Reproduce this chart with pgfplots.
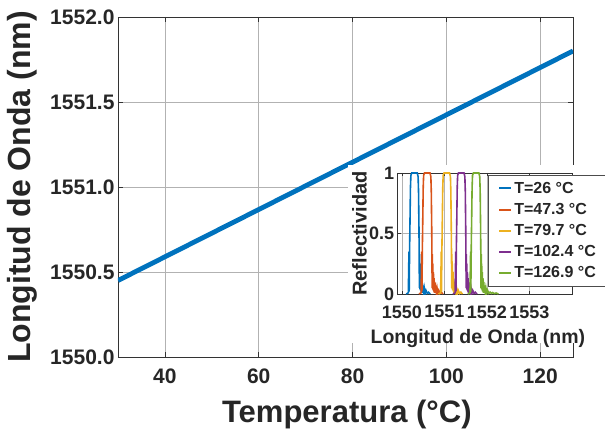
\documentclass[border=0pt]{standalone}
\usepackage{pgfplots}
\pgfplotsset{compat=1.18}
\usetikzlibrary{calc}
\usepackage{fontspec}
\setmainfont{Liberation Sans}
\definecolor{mblue}{rgb}{0,0.447,0.741}
\definecolor{morange}{rgb}{0.85,0.325,0.098}
\definecolor{myellow}{rgb}{0.929,0.694,0.125}
\definecolor{mpurple}{rgb}{0.494,0.184,0.556}
\definecolor{mgreen}{rgb}{0.466,0.674,0.188}
\begin{document}
\begin{tikzpicture}
\begin{axis}[name=main, at={(0,0)}, anchor=south west,
  scale only axis, width=455pt, height=340pt,
  xmin=30, xmax=127, ymin=1550, ymax=1552,
  xtick={40,60,80,100,120},
  ytick={1550,1550.5,1551,1551.5,1552},
  scaled ticks=false,
  /pgf/number format/assume math mode=true,
  /pgf/number format/1000 sep={},
  yticklabel style={/pgf/number format/fixed, /pgf/number format/fixed zerofill, /pgf/number format/precision=1},
  tick label style={font=\fontsize{21}{24}\selectfont\bfseries, text=black!85},
  xticklabel style={yshift=-8pt},
  grid=major, grid style={black!30, line width=0.6pt},
  axis line style={black!80, line width=0.8pt},
  tick style={black!80, line width=0.8pt},
  tick align=inside, major tick length=5pt,
  xlabel={Temperatura (°C)}, ylabel={Longitud de Onda (nm)},
  xlabel style={font=\fontsize{31}{36}\selectfont\bfseries, text=black!85, at={(axis description cs:0.503,-0.168)}, anchor=center},
  ylabel style={font=\fontsize{32}{36}\selectfont\bfseries, text=black!85, at={(axis description cs:-0.21,0.5)}, anchor=center},
]
\addplot[mblue, line width=4.8pt] coordinates {(30,1550.45) (127,1551.80)};
\end{axis}
\fill[white] ($(main.south west)+(230pt,14pt)$) rectangle ++(257pt,178pt);
\begin{axis}[name=inset, at={($(main.south west)+(279.7pt,63pt)$)}, anchor=south west,
  scale only axis, width=174.3pt, height=121pt,
  xmin=1549.9, xmax=1554, ymin=0, ymax=1,
  xtick={1550,1551,1552,1553}, ytick={0,0.5,1},
  scaled ticks=false,
  /pgf/number format/assume math mode=true,
  /pgf/number format/1000 sep={},
  tick label style={font=\fontsize{18}{20}\selectfont\bfseries, text=black!85},
  xticklabel style={yshift=-8pt},
  grid=major, grid style={black!30, line width=0.6pt},
  axis line style={black!80, line width=0.8pt},
  tick style={black!80, line width=0.8pt},
  tick align=inside, major tick length=3pt,
  axis background/.style={fill=white},
  xlabel={Longitud de Onda (nm)}, ylabel={Reflectividad},
  xlabel style={font=\fontsize{19.5}{22}\selectfont\bfseries, text=black!85, at={(axis description cs:0.46,-0.37)}, anchor=center},
  ylabel style={font=\fontsize{20}{22}\selectfont\bfseries, text=black!85, at={(axis description cs:-0.219,0.5)}, anchor=center},
  legend style={at={(0.518,0.985)}, anchor=north west, draw=black!70, line width=0.6pt, fill=white,
    font=\fontsize{16}{19}\selectfont\bfseries, text=black!85, inner xsep=10pt, inner ysep=5pt, row sep=4.5pt},
  legend cell align=left,
  legend image code/.code={\draw[#1, line width=2pt] (0pt,0pt) -- (12pt,0pt);},
]
\addplot[mblue, line width=1.6pt] coordinates {
(1550.10,0) (1550.15,0.01) (1550.165,0.35) (1550.17,0.02) (1550.18,0.38) (1550.19,0.62) (1550.20,0.88) (1550.21,0.98) (1550.23,1) (1550.36,1) (1550.38,0.97) (1550.39,0.85) (1550.40,0.55) (1550.405,0.35) (1550.41,0.05) (1550.415,0.33) (1550.42,0.04) (1550.425,0.25) (1550.435,0.03) (1550.44,0.18) (1550.45,0.02) (1550.455,0.13) (1550.465,0.01) (1550.475,0.10) (1550.485,0.01) (1550.495,0.07) (1550.51,0.01) (1550.525,0.05) (1550.545,0.005) (1550.565,0.03) (1550.595,0.005) (1550.625,0.015) (1550.665,0)};
\addlegendentry{T=26 °C}
\addplot[morange, line width=1.6pt] coordinates {
(1550.40,0) (1550.45,0.01) (1550.465,0.35) (1550.47,0.02) (1550.48,0.38) (1550.49,0.62) (1550.50,0.88) (1550.51,0.98) (1550.53,1) (1550.66,1) (1550.68,0.97) (1550.69,0.85) (1550.70,0.55) (1550.705,0.35) (1550.71,0.05) (1550.715,0.33) (1550.72,0.04) (1550.725,0.25) (1550.735,0.03) (1550.74,0.18) (1550.75,0.02) (1550.755,0.13) (1550.765,0.01) (1550.775,0.10) (1550.785,0.01) (1550.795,0.07) (1550.81,0.01) (1550.825,0.05) (1550.845,0.005) (1550.865,0.03) (1550.895,0.005) (1550.925,0.015) (1550.965,0)};
\addlegendentry{T=47.3 °C}
\addplot[myellow, line width=1.6pt] coordinates {
(1550.86,0) (1550.91,0.01) (1550.925,0.35) (1550.93,0.02) (1550.94,0.38) (1550.95,0.62) (1550.96,0.88) (1550.97,0.98) (1550.99,1) (1551.12,1) (1551.14,0.97) (1551.15,0.85) (1551.16,0.55) (1551.165,0.35) (1551.17,0.05) (1551.175,0.33) (1551.18,0.04) (1551.185,0.25) (1551.195,0.03) (1551.20,0.18) (1551.21,0.02) (1551.215,0.13) (1551.225,0.01) (1551.235,0.10) (1551.245,0.01) (1551.255,0.07) (1551.27,0.01) (1551.285,0.05) (1551.305,0.005) (1551.325,0.03) (1551.355,0.005) (1551.385,0.015) (1551.425,0)};
\addlegendentry{T=79.7 °C}
\addplot[mpurple, line width=1.6pt] coordinates {
(1551.20,0) (1551.25,0.01) (1551.265,0.35) (1551.27,0.02) (1551.28,0.38) (1551.29,0.62) (1551.30,0.88) (1551.31,0.98) (1551.33,1) (1551.46,1) (1551.48,0.97) (1551.49,0.85) (1551.50,0.55) (1551.505,0.35) (1551.51,0.05) (1551.515,0.33) (1551.52,0.04) (1551.525,0.25) (1551.535,0.03) (1551.54,0.18) (1551.55,0.02) (1551.555,0.13) (1551.565,0.01) (1551.575,0.10) (1551.585,0.01) (1551.595,0.07) (1551.61,0.01) (1551.625,0.05) (1551.645,0.005) (1551.665,0.03) (1551.695,0.005) (1551.725,0.015) (1551.765,0)};
\addlegendentry{T=102.4 °C}
\addplot[mgreen, line width=1.6pt] coordinates {
(1551.55,0) (1551.60,0.01) (1551.615,0.35) (1551.62,0.02) (1551.63,0.38) (1551.64,0.62) (1551.65,0.88) (1551.66,0.98) (1551.68,1) (1551.81,1) (1551.83,0.97) (1551.84,0.85) (1551.85,0.55) (1551.855,0.35) (1551.86,0.05) (1551.865,0.33) (1551.87,0.04) (1551.875,0.25) (1551.885,0.03) (1551.89,0.18) (1551.90,0.02) (1551.905,0.13) (1551.915,0.01) (1551.925,0.10) (1551.935,0.01) (1551.945,0.07) (1551.96,0.01) (1551.975,0.05) (1551.995,0.005) (1552.015,0.03) (1552.045,0.005) (1552.075,0.015) (1552.105,0.005) (1552.135,0.012) (1552.175,0.003) (1552.215,0.008) (1552.27,0)};
\addlegendentry{T=126.9 °C}
\end{axis}
\pgfresetboundingbox
\path ($(main.south west)+(-118pt,-74pt)$) rectangle ++(605pt,431pt);
\end{tikzpicture}
\end{document}
